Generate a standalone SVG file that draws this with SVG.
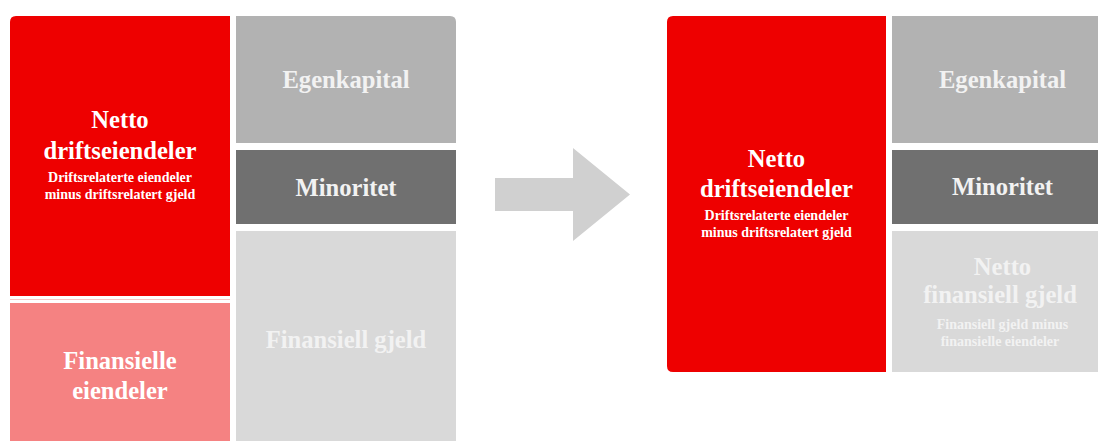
<svg xmlns="http://www.w3.org/2000/svg" width="1098" height="441" viewBox="0 0 1098 441">
  <style>
    .t { font-family: "Liberation Serif", "Times New Roman", serif; font-weight: bold; text-anchor: middle; }
    .big { font-size: 24.6px; }
    .small { font-size: 14px; }
    .onred { fill: #FFFFFF; }
    .ongray { fill: #F2F2F2; }
    .red { fill: #EE0000; }
    .pink { fill: #F58282; }
    .mid { fill: #B2B2B2; }
    .dark { fill: #707070; }
    .light { fill: #D9D9D9; }
  </style>
  <rect width="1098" height="441" fill="#FFFFFF"/>

  <!-- Balance before regrouping -->
  <g id="left-netto-driftseiendeler">
    <path class="red" d="M10,296 V22 Q10,16 16,16 H230 V296 Z"/>
    <text class="t big onred" x="120" y="128">Netto</text>
    <text class="t big onred" x="120" y="159">driftseiendeler</text>
    <text class="t small onred" x="120" y="182">Driftsrelaterte eiendeler</text>
    <text class="t small onred" x="120" y="199">minus driftsrelatert gjeld</text>
  </g>
  <g id="left-finansielle-eiendeler">
    <line x1="10" y1="299.5" x2="230" y2="299.5" stroke="#F9C4C4" stroke-width="1"/>
    <rect class="pink" x="10" y="303" width="220" height="150"/>
    <text class="t big onred" x="120" y="369">Finansielle</text>
    <text class="t big onred" x="120" y="399">eiendeler</text>
  </g>
  <g id="left-egenkapital">
    <path class="mid" d="M236,16 H450 Q456,16 456,22 V143 H236 Z"/>
    <text class="t big ongray" x="346" y="88">Egenkapital</text>
  </g>
  <g id="left-minoritet">
    <rect class="dark" x="236" y="150" width="220" height="74"/>
    <text class="t big ongray" x="346" y="196">Minoritet</text>
  </g>
  <g id="left-finansiell-gjeld">
    <rect class="light" x="236" y="231" width="220" height="222"/>
    <text class="t big ongray" x="346" y="348">Finansiell gjeld</text>
  </g>

  <!-- Regrouping arrow -->
  <g id="connectors">
    <polygon points="495,178 573,178 573,148 630,194.5 573,241 573,211 495,211" fill="#D0D0D0"/>
  </g>

  <!-- Balance after regrouping -->
  <g id="right-netto-driftseiendeler">
    <path class="red" d="M886,16 V372 H673 Q667,372 667,366 V22 Q667,16 673,16 Z"/>
    <text class="t big onred" x="776.5" y="167">Netto</text>
    <text class="t big onred" x="776.5" y="197">driftseiendeler</text>
    <text class="t small onred" x="776.5" y="220">Driftsrelaterte eiendeler</text>
    <text class="t small onred" x="776.5" y="237">minus driftsrelatert gjeld</text>
  </g>
  <g id="right-egenkapital">
    <rect class="mid" x="892" y="16" width="221" height="127"/>
    <text class="t big ongray" x="1002.5" y="88">Egenkapital</text>
  </g>
  <g id="right-minoritet">
    <rect class="dark" x="892" y="150" width="221" height="74"/>
    <text class="t big ongray" x="1002.5" y="195">Minoritet</text>
  </g>
  <g id="right-netto-finansiell-gjeld">
    <rect class="light" x="892" y="231" width="221" height="141"/>
    <text class="t big ongray" x="1002.5" y="275">Netto</text>
    <text class="t big ongray" x="1000" y="303">finansiell gjeld</text>
    <text class="t small ongray" x="1002.5" y="329">Finansiell gjeld minus</text>
    <text class="t small ongray" x="1000" y="346">finansielle eiendeler</text>
  </g>
</svg>
